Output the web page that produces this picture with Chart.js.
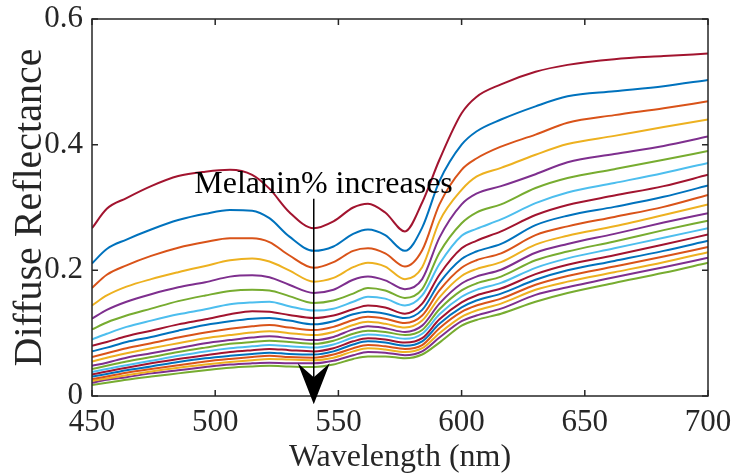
<!DOCTYPE html>
<html lang="en">
<head>
    <meta charset="UTF-8">
    <title>Diffuse Reflectance vs Wavelength</title>
    <script src="https://cdn.jsdelivr.net/npm/chart.js"></script>
    <style>
        body { margin: 0; background: #fff; }
    </style>
</head>
<body>
    <canvas id="myChart" width="734" height="475"></canvas>
    <script>
        // wavelengths (nm) where the curves were read
        const wavelengths = [450, 456, 464, 474, 485, 496, 506, 515, 522, 530, 540, 548, 556, 562, 569, 577, 584, 591, 600, 606, 616, 630, 643, 662, 682, 700];

        // reflectance curves, top (least melanin) to bottom (most melanin)
        const r1  = [.267,.298,.315,.334,.350,.357,.360,.352,.330,.293,.267,.278,.300,.306,.292,.262,.308,.376,.450,.476,.496,.516,.527,.536,.541,.545];
        const r2  = [.211,.234,.249,.265,.280,.290,.296,.295,.283,.254,.231,.238,.258,.265,.256,.231,.268,.342,.400,.421,.440,.461,.477,.485,.493,.503];
        const r3  = [.172,.193,.208,.223,.236,.245,.251,.251,.245,.224,.204,.213,.231,.235,.227,.206,.232,.305,.360,.378,.397,.416,.435,.447,.458,.469];
        const r4  = [.144,.160,.174,.186,.197,.207,.216,.219,.214,.200,.182,.188,.205,.212,.206,.186,.205,.278,.328,.349,.363,.384,.401,.414,.428,.440];
        const r5  = [.123,.137,.150,.162,.173,.181,.190,.192,.189,.177,.164,.169,.185,.190,.184,.170,.186,.252,.305,.322,.334,.353,.372,.385,.398,.413];
        const r6  = [.106,.117,.128,.139,.151,.160,.167,.169,.168,.159,.148,.152,.163,.172,.168,.156,.170,.228,.275,.292,.305,.331,.347,.361,.376,.390];
        const r7  = [.090,.099,.110,.120,.130,.138,.146,.149,.150,.143,.136,.139,.150,.158,.155,.144,.160,.210,.255,.266,.281,.307,.324,.339,.355,.371];
        const r8  = [.080,.086,.095,.104,.114,.122,.130,.135,.134,.129,.124,.128,.138,.144,.141,.131,.147,.193,.235,.247,.262,.288,.304,.319,.334,.352];
        const r9  = [.071,.077,.086,.094,.104,.113,.119,.123,.124,.120,.114,.119,.130,.134,.131,.124,.137,.180,.218,.230,.242,.272,.287,.301,.317,.335];
        const r10 = [.062,.068,.076,.084,.093,.101,.107,.111,.113,.109,.105,.110,.121,.126,.123,.116,.128,.168,.204,.216,.227,.256,.270,.285,.301,.320];
        const r11 = [.055,.061,.068,.076,.084,.092,.097,.101,.103,.100,.097,.102,.113,.118,.115,.109,.120,.157,.191,.202,.213,.241,.255,.270,.288,.305];
        const r12 = [.048,.053,.061,.068,.076,.084,.089,.093,.095,.092,.089,.094,.106,.111,.108,.102,.112,.147,.179,.190,.201,.228,.242,.258,.276,.291];
        const r13 = [.043,.048,.055,.062,.070,.077,.083,.086,.088,.086,.083,.088,.099,.104,.102,.097,.105,.138,.168,.179,.190,.216,.230,.246,.264,.279];
        const r14 = [.038,.043,.049,.056,.064,.071,.076,.079,.081,.079,.077,.082,.093,.098,.096,.091,.099,.130,.158,.169,.180,.204,.219,.235,.252,.267];
        const r15 = [.034,.039,.045,.052,.059,.065,.070,.073,.075,.073,.071,.076,.087,.092,.090,.085,.092,.122,.149,.160,.171,.194,.209,.224,.241,.257];
        const r16 = [.031,.035,.041,.047,.054,.060,.064,.067,.069,.067,.066,.071,.082,.087,.085,.080,.087,.115,.141,.152,.163,.185,.200,.215,.231,.247];
        const r17 = [.027,.031,.037,.043,.049,.055,.059,.062,.064,.062,.061,.066,.076,.081,.079,.075,.081,.108,.134,.144,.155,.177,.191,.206,.222,.237];
        const r18 = [.024,.028,.033,.039,.045,.050,.054,.057,.059,.058,.057,.061,.071,.076,.074,.070,.076,.100,.126,.136,.147,.169,.182,.197,.213,.229];
        const r19 = [.021,.026,.030,.036,.041,.046,.050,.052,.053,.052,.052,.056,.065,.070,.069,.065,.071,.093,.119,.128,.139,.161,.173,.189,.205,.220];
        const r20 = [.0175,.021,.026,.031,.036,.041,.045,.047,.048,.047,.046,.050,.059,.063,.063,.060,.066,.085,.112,.121,.131,.150,.164,.180,.196,.212];
        const curves = [r1, r2, r3, r4, r5, r6, r7, r8, r9, r10, r11, r12, r13, r14, r15, r16, r17, r18, r19, r20];

        const xTicks = [450, 500, 550, 600, 650, 700];
        const yTicks = [0, 0.2, 0.4, 0.6];

        // annotation: text and arrow at 540 nm
        const noteText = 'Melanin% increases';
        const noteAt = {x: 491.5, y: 0.323};
        const arrowX = 540, arrowTop = 0.314, arrowTip = -0.013;

        // matlab default line colours, starting from the 7th one
        const palette = ['#A2142F', '#0072BD', '#D95319', '#EDB120', '#7E2F8E', '#77AC30', '#4DBEEE'];
        const serif = 'Liberation Serif, Times New Roman, serif';

        const frame = {
            id: 'frame',
            afterDraw(chart) {
                const {ctx, chartArea: a, scales: {x, y}} = chart;
                ctx.save();
                ctx.strokeStyle = '#262626';
                ctx.lineWidth = 1.5;
                ctx.beginPath();
                xTicks.forEach(v => {
                    const px = x.getPixelForValue(v);
                    ctx.moveTo(px, a.bottom); ctx.lineTo(px, a.bottom - 6);
                    ctx.moveTo(px, a.top); ctx.lineTo(px, a.top + 6);
                });
                yTicks.forEach(v => {
                    const py = y.getPixelForValue(v);
                    ctx.moveTo(a.left, py); ctx.lineTo(a.left + 6, py);
                    ctx.moveTo(a.right, py); ctx.lineTo(a.right - 6, py);
                });
                ctx.stroke();
                ctx.strokeRect(a.left, a.top, a.right - a.left, a.bottom - a.top);

                // arrow
                const ax = x.getPixelForValue(arrowX);
                const top = y.getPixelForValue(arrowTop);
                const tip = y.getPixelForValue(arrowTip);
                ctx.strokeStyle = '#000';
                ctx.lineWidth = 1.5;
                ctx.beginPath();
                ctx.moveTo(ax, top); ctx.lineTo(ax, tip - 20);
                ctx.stroke();
                ctx.fillStyle = '#000';
                ctx.beginPath();
                ctx.moveTo(ax, tip);
                ctx.lineTo(ax - 16, tip - 41);
                ctx.lineTo(ax, tip - 27);
                ctx.lineTo(ax + 16, tip - 41);
                ctx.closePath();
                ctx.fill();

                ctx.font = '32px ' + serif;
                ctx.textBaseline = 'alphabetic';
                ctx.fillText(noteText, x.getPixelForValue(noteAt.x), y.getPixelForValue(noteAt.y));
                ctx.restore();
            }
        };

        const ctx = document.getElementById('myChart').getContext('2d');
        const myChart = new Chart(ctx, {
            type: 'line',
            data: {
                datasets: curves.map((c, i) => ({
                    data: c.map((v, j) => ({x: wavelengths[j], y: v})),
                    borderColor: palette[i % 7],
                    borderWidth: 2,
                    pointRadius: 0,
                    fill: false,
                    cubicInterpolationMode: 'monotone'
                }))
            },
            options: {
                responsive: false,
                animation: false,
                layout: { padding: { top: 19, right: 26, left: 0, bottom: 0 } },
                plugins: { legend: { display: false }, tooltip: { enabled: false } },
                scales: {
                    x: {
                        type: 'linear', min: 450, max: 700,
                        afterBuildTicks: s => { s.ticks = xTicks.map(v => ({value: v})); },
                        afterFit: s => { s.height = 79; s.paddingLeft = 0; s.paddingRight = 0; },
                        grid: { display: false, drawTicks: false },
                        border: { display: false },
                        ticks: { font: { family: serif, size: 31 }, color: '#262626', padding: 8, maxRotation: 0 },
                        title: { display: true, text: 'Wavelength (nm)', font: { family: serif, size: 32, lineHeight: 1.1 }, color: '#262626', padding: { top: 0, bottom: 0 } }
                    },
                    y: {
                        min: 0, max: 0.6,
                        afterBuildTicks: s => { s.ticks = yTicks.map(v => ({value: v})); },
                        afterFit: s => { s.width = 92; s.paddingTop = 0; s.paddingBottom = 0; },
                        grid: { display: false, drawTicks: false },
                        border: { display: false },
                        ticks: { font: { family: serif, size: 31 }, color: '#262626', padding: 9 },
                        title: { display: true, text: 'Diffuse Reflectance', font: { family: serif, size: 40, lineHeight: 1.1 }, color: '#262626', padding: { top: 8, bottom: 0 } }
                    }
                }
            },
            plugins: [frame]
        });
    </script>
</body>
</html>
